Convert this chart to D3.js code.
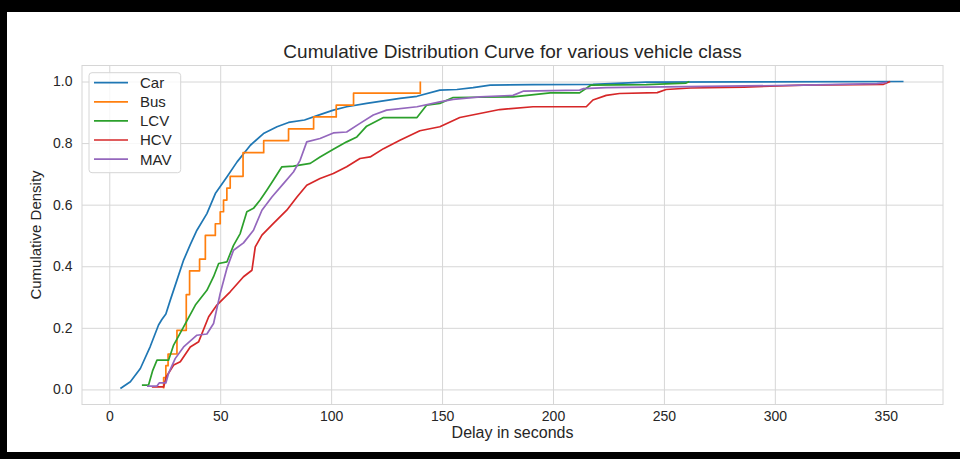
<!DOCTYPE html>
<html>
<head>
<meta charset="utf-8">
<script src="https://cdn.jsdelivr.net/npm/d3@7"></script>
<style>
  body { margin: 0; background: #fff; }
  text { font-family: "Liberation Sans", Arial, sans-serif; fill: #262626; }
</style>
</head>
<body>
<div id="chart"></div>
<script>
// series (delay in s, cumulative share)
var carX = [5, 9.5, 14, 18.5, 22.2, 23.7, 25.5, 27.5, 30.5, 33.5, 36.5, 39.5, 44, 47.8, 53, 57.6, 63.6, 69.5, 75.6, 80.8, 88, 94, 101, 107, 116, 131, 138.7, 149, 156.7, 164, 171.7, 191, 218, 242, 286, 358];
var carY = [0.003, 0.025, 0.068, 0.14, 0.209, 0.227, 0.245, 0.29, 0.355, 0.42, 0.47, 0.517, 0.571, 0.636, 0.69, 0.739, 0.793, 0.831, 0.853, 0.867, 0.875, 0.89, 0.907, 0.918, 0.929, 0.945, 0.952, 0.972, 0.974, 0.98, 0.988, 0.99, 0.991, 0.998, 0.999, 1.0];

var busX = [24.5, 24.5, 25.5, 26.5, 30.5, 34.7, 36.2, 40.7, 43.3, 47.8, 50, 51.5, 53, 54.5, 60.3, 69.6, 80.8, 92.1, 102.3, 110.1, 140.2];
var busY = [0.003, 0.038, 0.077, 0.115, 0.192, 0.308, 0.385, 0.423, 0.5, 0.538, 0.577, 0.615, 0.654, 0.692, 0.769, 0.808, 0.846, 0.885, 0.923, 0.962, 1.0];

var lcvX = [14.7, 17.7, 19.5, 21.5, 26.7, 29, 33.5, 38.8, 44, 47, 49.3, 53, 56, 59, 62, 65, 68, 71, 74, 77.8, 83, 90.6, 95, 101, 107, 111.6, 116, 123.6, 138.7, 143, 149, 155, 182, 198.8, 212, 217, 242, 260, 261.5];
var lcvY = [0.014, 0.014, 0.06, 0.095, 0.095, 0.144, 0.203, 0.274, 0.322, 0.366, 0.409, 0.414, 0.468, 0.506, 0.577, 0.588, 0.615, 0.647, 0.68, 0.723, 0.725, 0.734, 0.755, 0.78, 0.804, 0.82, 0.855, 0.883, 0.883, 0.923, 0.929, 0.948, 0.95, 0.963, 0.963, 0.988, 0.99, 0.995, 1.0];

var hcvX = [19.2, 24.5, 25.7, 29, 32, 36.5, 40.3, 44.8, 48.5, 54.5, 60.5, 64.3, 65.8, 68.8, 74, 80, 84.6, 89, 95, 101, 107, 113, 117.6, 123.6, 131, 140, 149, 158, 167, 176, 191, 215, 218, 224, 230, 247, 251, 262, 286, 313, 349, 352];
var hcvY = [0.008, 0.008, 0.041, 0.079, 0.09, 0.138, 0.155, 0.236, 0.274, 0.317, 0.366, 0.387, 0.463, 0.501, 0.539, 0.582, 0.625, 0.663, 0.685, 0.701, 0.723, 0.75, 0.755, 0.782, 0.809, 0.84, 0.853, 0.883, 0.896, 0.909, 0.918, 0.918, 0.94, 0.955, 0.961, 0.964, 0.974, 0.979, 0.982, 0.988, 0.991, 1.0];

var mavX = [17, 21.5, 22.5, 25.5, 26.7, 29.7, 33.5, 39.5, 44, 47, 50, 53, 56, 60.5, 65, 68.8, 73.3, 78.6, 83, 86, 89, 95, 101, 107, 113, 119, 125, 138.7, 149, 155, 167, 182, 186.8, 212, 213.8, 224, 313, 346, 350.5];
var mavY = [0.011, 0.011, 0.021, 0.021, 0.052, 0.1, 0.138, 0.176, 0.18, 0.214, 0.312, 0.393, 0.452, 0.476, 0.517, 0.582, 0.625, 0.669, 0.706, 0.744, 0.804, 0.815, 0.833, 0.836, 0.864, 0.891, 0.907, 0.918, 0.934, 0.942, 0.95, 0.955, 0.969, 0.972, 0.977, 0.98, 0.988, 0.993, 0.997];

var names = ["Car", "Bus", "LCV", "HCV", "MAV"];
var colors = ["#1f77b4", "#ff7f0e", "#2ca02c", "#d62728", "#9467bd"];
var xTicks = [0, 50, 100, 150, 200, 250, 300, 350];
var yTicks = [0, 0.2, 0.4, 0.6, 0.8, 1.0];

var W = 960, H = 459;
var pLeft = 82, pRight = 943, pTop = 65.5, pBottom = 404.5;

var svg = d3.select("#chart").append("svg")
  .attr("width", W)
  .attr("height", H);

var x = d3.scaleLinear().domain([-12.3, 375.8]).range([pLeft, pRight]);
var y = d3.scaleLinear().domain([-0.049, 1.052]).range([pBottom, pTop]);

// grid
svg.append("g")
  .attr("transform", "translate(0," + pBottom + ")")
  .call(d3.axisBottom(x).tickValues(xTicks).tickSize(-(pBottom - pTop)).tickFormat(""))
  .call(function(g) { g.select(".domain").remove(); })
  .selectAll("line").attr("stroke", "#d6d6d6");

svg.append("g")
  .attr("transform", "translate(" + pLeft + ",0)")
  .call(d3.axisLeft(y).tickValues(yTicks).tickSize(-(pRight - pLeft)).tickFormat(""))
  .call(function(g) { g.select(".domain").remove(); })
  .selectAll("line").attr("stroke", "#d6d6d6");

// frame
svg.append("rect")
  .attr("x", pLeft).attr("y", pTop)
  .attr("width", pRight - pLeft).attr("height", pBottom - pTop)
  .attr("fill", "none").attr("stroke", "#d6d6d6");

// tick labels
svg.append("g")
  .attr("transform", "translate(0," + pBottom + ")")
  .call(d3.axisBottom(x).tickValues(xTicks).tickSize(0).tickPadding(6.5).tickFormat(d3.format("d")))
  .call(function(g) { g.select(".domain").remove(); })
  .selectAll("text").attr("font-size", 14);

svg.append("g")
  .attr("transform", "translate(" + pLeft + ",0)")
  .call(d3.axisLeft(y).tickValues(yTicks).tickSize(0).tickPadding(9.5).tickFormat(d3.format(".1f")))
  .call(function(g) { g.select(".domain").remove(); })
  .selectAll("text").attr("font-size", 14);

svg.selectAll(".tick text").attr("fill", "#262626").attr("font-family", null);

// lines
var series = [
  {x: carX, y: carY, curve: d3.curveLinear},
  {x: busX, y: busY, curve: d3.curveStepAfter},
  {x: lcvX, y: lcvY, curve: d3.curveLinear},
  {x: hcvX, y: hcvY, curve: d3.curveLinear},
  {x: mavX, y: mavY, curve: d3.curveLinear}
];

series.forEach(function(s, i) {
  var line = d3.line()
    .curve(s.curve)
    .x(function(d) { return x(s.x[d]); })
    .y(function(d) { return y(s.y[d]); });
  svg.append("path")
    .attr("d", line(d3.range(s.x.length)))
    .attr("fill", "none")
    .attr("stroke", colors[i])
    .attr("stroke-width", 1.7)
    .attr("stroke-linejoin", "round");
});

// legend
var lg = svg.append("g");
lg.append("rect")
  .attr("x", 89).attr("y", 72.7)
  .attr("width", 91.7).attr("height", 100)
  .attr("rx", 3)
  .attr("fill", "#fff").attr("fill-opacity", 0.8)
  .attr("stroke", "#d6d6d6");
names.forEach(function(n, i) {
  var yy = 82.7 + i * 19.1;
  lg.append("line")
    .attr("x1", 94).attr("x2", 128)
    .attr("y1", yy).attr("y2", yy)
    .attr("stroke", colors[i]).attr("stroke-width", 1.7);
  lg.append("text")
    .attr("x", 140).attr("y", yy).attr("dy", "0.36em")
    .attr("font-size", 15)
    .text(n);
});

// titles
svg.append("text")
  .attr("x", (pLeft + pRight) / 2).attr("y", 58)
  .attr("text-anchor", "middle")
  .attr("font-size", 19)
  .text("Cumulative Distribution Curve for various vehicle class");

svg.append("text")
  .attr("x", (pLeft + pRight) / 2).attr("y", 438)
  .attr("text-anchor", "middle")
  .attr("font-size", 16)
  .text("Delay in seconds");

svg.append("text")
  .attr("transform", "translate(41," + ((pTop + pBottom) / 2) + ") rotate(-90)")
  .attr("text-anchor", "middle")
  .attr("font-size", 15)
  .text("Cumulative Density");

// black border of the screenshot
svg.append("rect").attr("x", 0).attr("y", 0).attr("width", W).attr("height", 12).attr("fill", "#000");
svg.append("rect").attr("x", 0).attr("y", 0).attr("width", 7).attr("height", H).attr("fill", "#000");
svg.append("rect").attr("x", 0).attr("y", 452).attr("width", W).attr("height", 7).attr("fill", "#000");
</script>
</body>
</html>
